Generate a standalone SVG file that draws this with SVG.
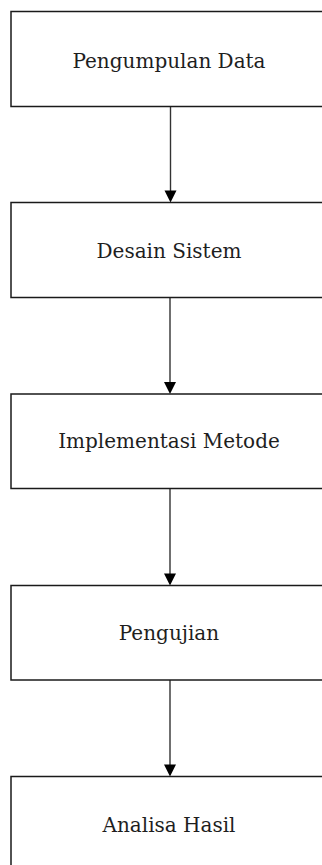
<svg xmlns="http://www.w3.org/2000/svg" width="322" height="865" viewBox="0 0 322 865">
  <style>
    .box { fill: #ffffff; stroke: #1a1a1a; stroke-width: 1.5; }
    .lbl { font-family: "DejaVu Serif", "Liberation Serif", serif; font-size: 20px; fill: #1e1e1e; text-anchor: middle; }
    .conn { stroke: #333333; stroke-width: 1.4; fill: none; }
    .head { fill: #000000; }
  </style>
  <rect width="322" height="865" fill="#ffffff"/>
  <g id="connectors">
    <line class="conn" x1="170.5" y1="106.5" x2="170.5" y2="195"/>
    <polygon class="head" points="164.5,190.5 176.5,190.5 170.5,202.5"/>
    <line class="conn" x1="170" y1="297.5" x2="170" y2="386"/>
    <polygon class="head" points="164,382 176,382 170,394"/>
    <line class="conn" x1="170" y1="488.5" x2="170" y2="577"/>
    <polygon class="head" points="164,573.5 176,573.5 170,585.5"/>
    <line class="conn" x1="170" y1="680" x2="170" y2="768"/>
    <polygon class="head" points="164,764.5 176,764.5 170,776.5"/>
  </g>
  <g id="n1">
    <rect class="box" x="11" y="11.5" width="320" height="95"/>
    <text class="lbl" x="169" y="67.5">Pengumpulan Data</text>
  </g>
  <g id="n2">
    <rect class="box" x="11" y="202.5" width="320" height="95"/>
    <text class="lbl" x="169" y="257.5">Desain Sistem</text>
  </g>
  <g id="n3">
    <rect class="box" x="11" y="394" width="320" height="94.5"/>
    <text class="lbl" x="169" y="448">Implementasi Metode</text>
  </g>
  <g id="n4">
    <rect class="box" x="11" y="585.5" width="320" height="94.5"/>
    <text class="lbl" x="169" y="640">Pengujian</text>
  </g>
  <g id="n5">
    <rect class="box" x="11" y="776.5" width="320" height="95"/>
    <text class="lbl" x="169" y="831.5">Analisa Hasil</text>
  </g>
</svg>
